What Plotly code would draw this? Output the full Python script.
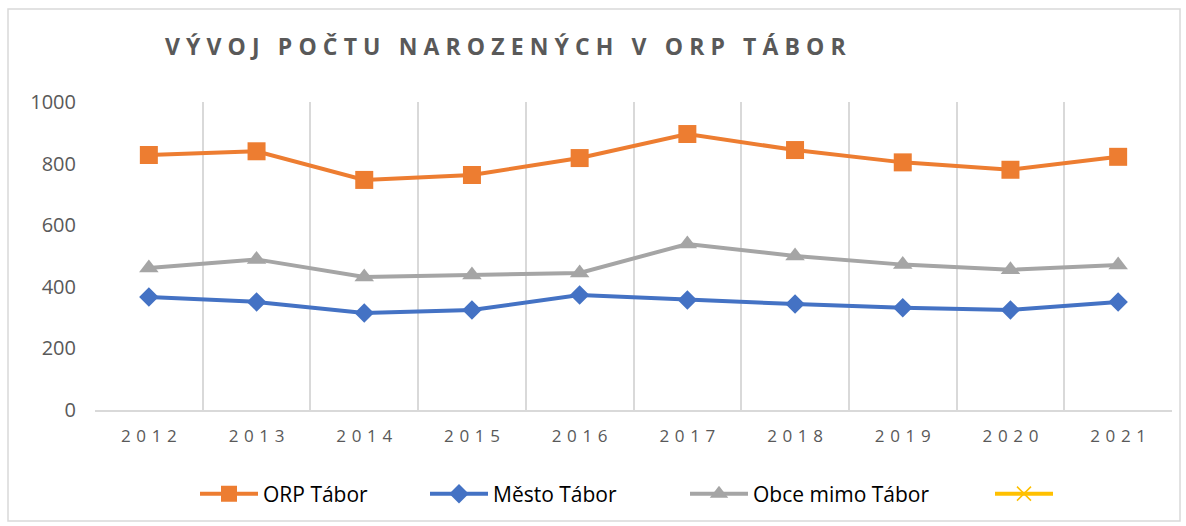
import plotly.graph_objects as go

years = [2012, 2013, 2014, 2015, 2016, 2017, 2018, 2019, 2020, 2021]
orp_tabor = [828, 840, 747, 763, 818, 896, 844, 804, 780, 822]
mesto_tabor = [367, 351, 315, 325, 373, 357, 344, 332, 325, 351]
obce_mimo = [461, 489, 432, 438, 445, 539, 500, 472, 455, 471]
empty_series = [None] * 10
series_names = ["ORP Tábor", "Město Tábor", "Obce mimo Tábor", ""]
title_text = "VÝVOJ POČTU NAROZENÝCH V ORP TÁBOR"
y_ticks = [0, 200, 400, 600, 800, 1000]

THIN = "\u2009"
HAIR = "\u200a"


def spaced(s, sep):
    return sep.join(list(s))


# plot area in pixels
W, H = 1186, 526
L, R, T, B = 95, 14, 102, 116
pw, ph = W - L - R, H - T - B


def px_x(x):
    return (x - L) / pw


def px_y(y):
    return (H - B - y) / ph


fig = go.Figure()

styles = [
    dict(color="#ED7D31", symbol="square", size=18),
    dict(color="#4472C4", symbol="diamond", size=15),
    dict(color="#A5A5A5", symbol="triangle-up", size=17),
]
datas = [orp_tabor, mesto_tabor, obce_mimo]
legend_ids = ["legend", "legend2", "legend3", "legend4"]

for i, (vals, st) in enumerate(zip(datas, styles)):
    fig.add_trace(go.Scatter(
        x=years, y=vals, name=series_names[i], mode="lines+markers",
        line=dict(color=st["color"], width=4),
        marker=dict(symbol=st["symbol"], size=st["size"], color=st["color"]),
        legend=legend_ids[i],
    ))

fig.add_trace(go.Scatter(
    x=years, y=empty_series, name=series_names[3], mode="lines+markers",
    line=dict(color="#FFC000", width=4),
    marker=dict(symbol="x-thin", size=14, color="#FFC000",
                line=dict(color="#FFC000", width=1.5)),
    legend="legend4",
))

legend_x_px = [195, 425, 685, 990]
legend_common = dict(
    orientation="h", yanchor="middle", xanchor="left",
    font=dict(family="Open Sans, sans-serif", size=21, color="#000000"),
    bgcolor="rgba(0,0,0,0)", itemwidth=58,
)
legend_layout = {}
for lid, lx in zip(legend_ids, legend_x_px):
    legend_layout[lid] = dict(x=px_x(lx), y=px_y(494), **legend_common)

fig.update_layout(
    width=W, height=H,
    margin=dict(l=L, r=R, t=T, b=B),
    paper_bgcolor="white", plot_bgcolor="white",
    title=dict(
        text="<b>" + spaced(title_text, THIN + HAIR) + "</b>",
        x=165 / W, xref="container", xanchor="left",
        y=1 - 47 / H, yref="container", yanchor="middle",
        font=dict(family="Open Sans, sans-serif", size=23, color="#595959"),
    ),
    xaxis=dict(
        range=[2011.5, 2021.5],
        tickmode="array", tickvals=years,
        ticktext=[spaced(str(y), THIN + THIN) for y in years],
        showgrid=False, zeroline=False,
        showline=True, linecolor="#D9D9D9", linewidth=1.5,
        ticks="",
        tickfont=dict(family="Open Sans, sans-serif", size=17, color="#595959"),
        ticklabelstandoff=10,
        minor=dict(tickmode="linear", tick0=2011.5, dtick=1, showgrid=True,
                   gridcolor="#D9D9D9", gridwidth=1.5),
        fixedrange=True,
    ),
    yaxis=dict(
        range=[0, 1000], tickmode="array", tickvals=y_ticks,
        showgrid=False, zeroline=False, showline=False, ticks="",
        tickfont=dict(family="Open Sans, sans-serif", size=20, color="#595959"),
        ticklabelstandoff=18, fixedrange=True,
    ),
    showlegend=True,
    shapes=[dict(
        type="rect", xref="paper", yref="paper", layer="below",
        x0=px_x(8), x1=px_x(1180), y0=px_y(521), y1=px_y(9),
        line=dict(color="#D9D9D9", width=1.5), fillcolor="rgba(0,0,0,0)",
    )],
    **legend_layout,
)

fig.write_html("out.html", config={"displayModeBar": False},
               post_script="document.body.style.margin='0';")
